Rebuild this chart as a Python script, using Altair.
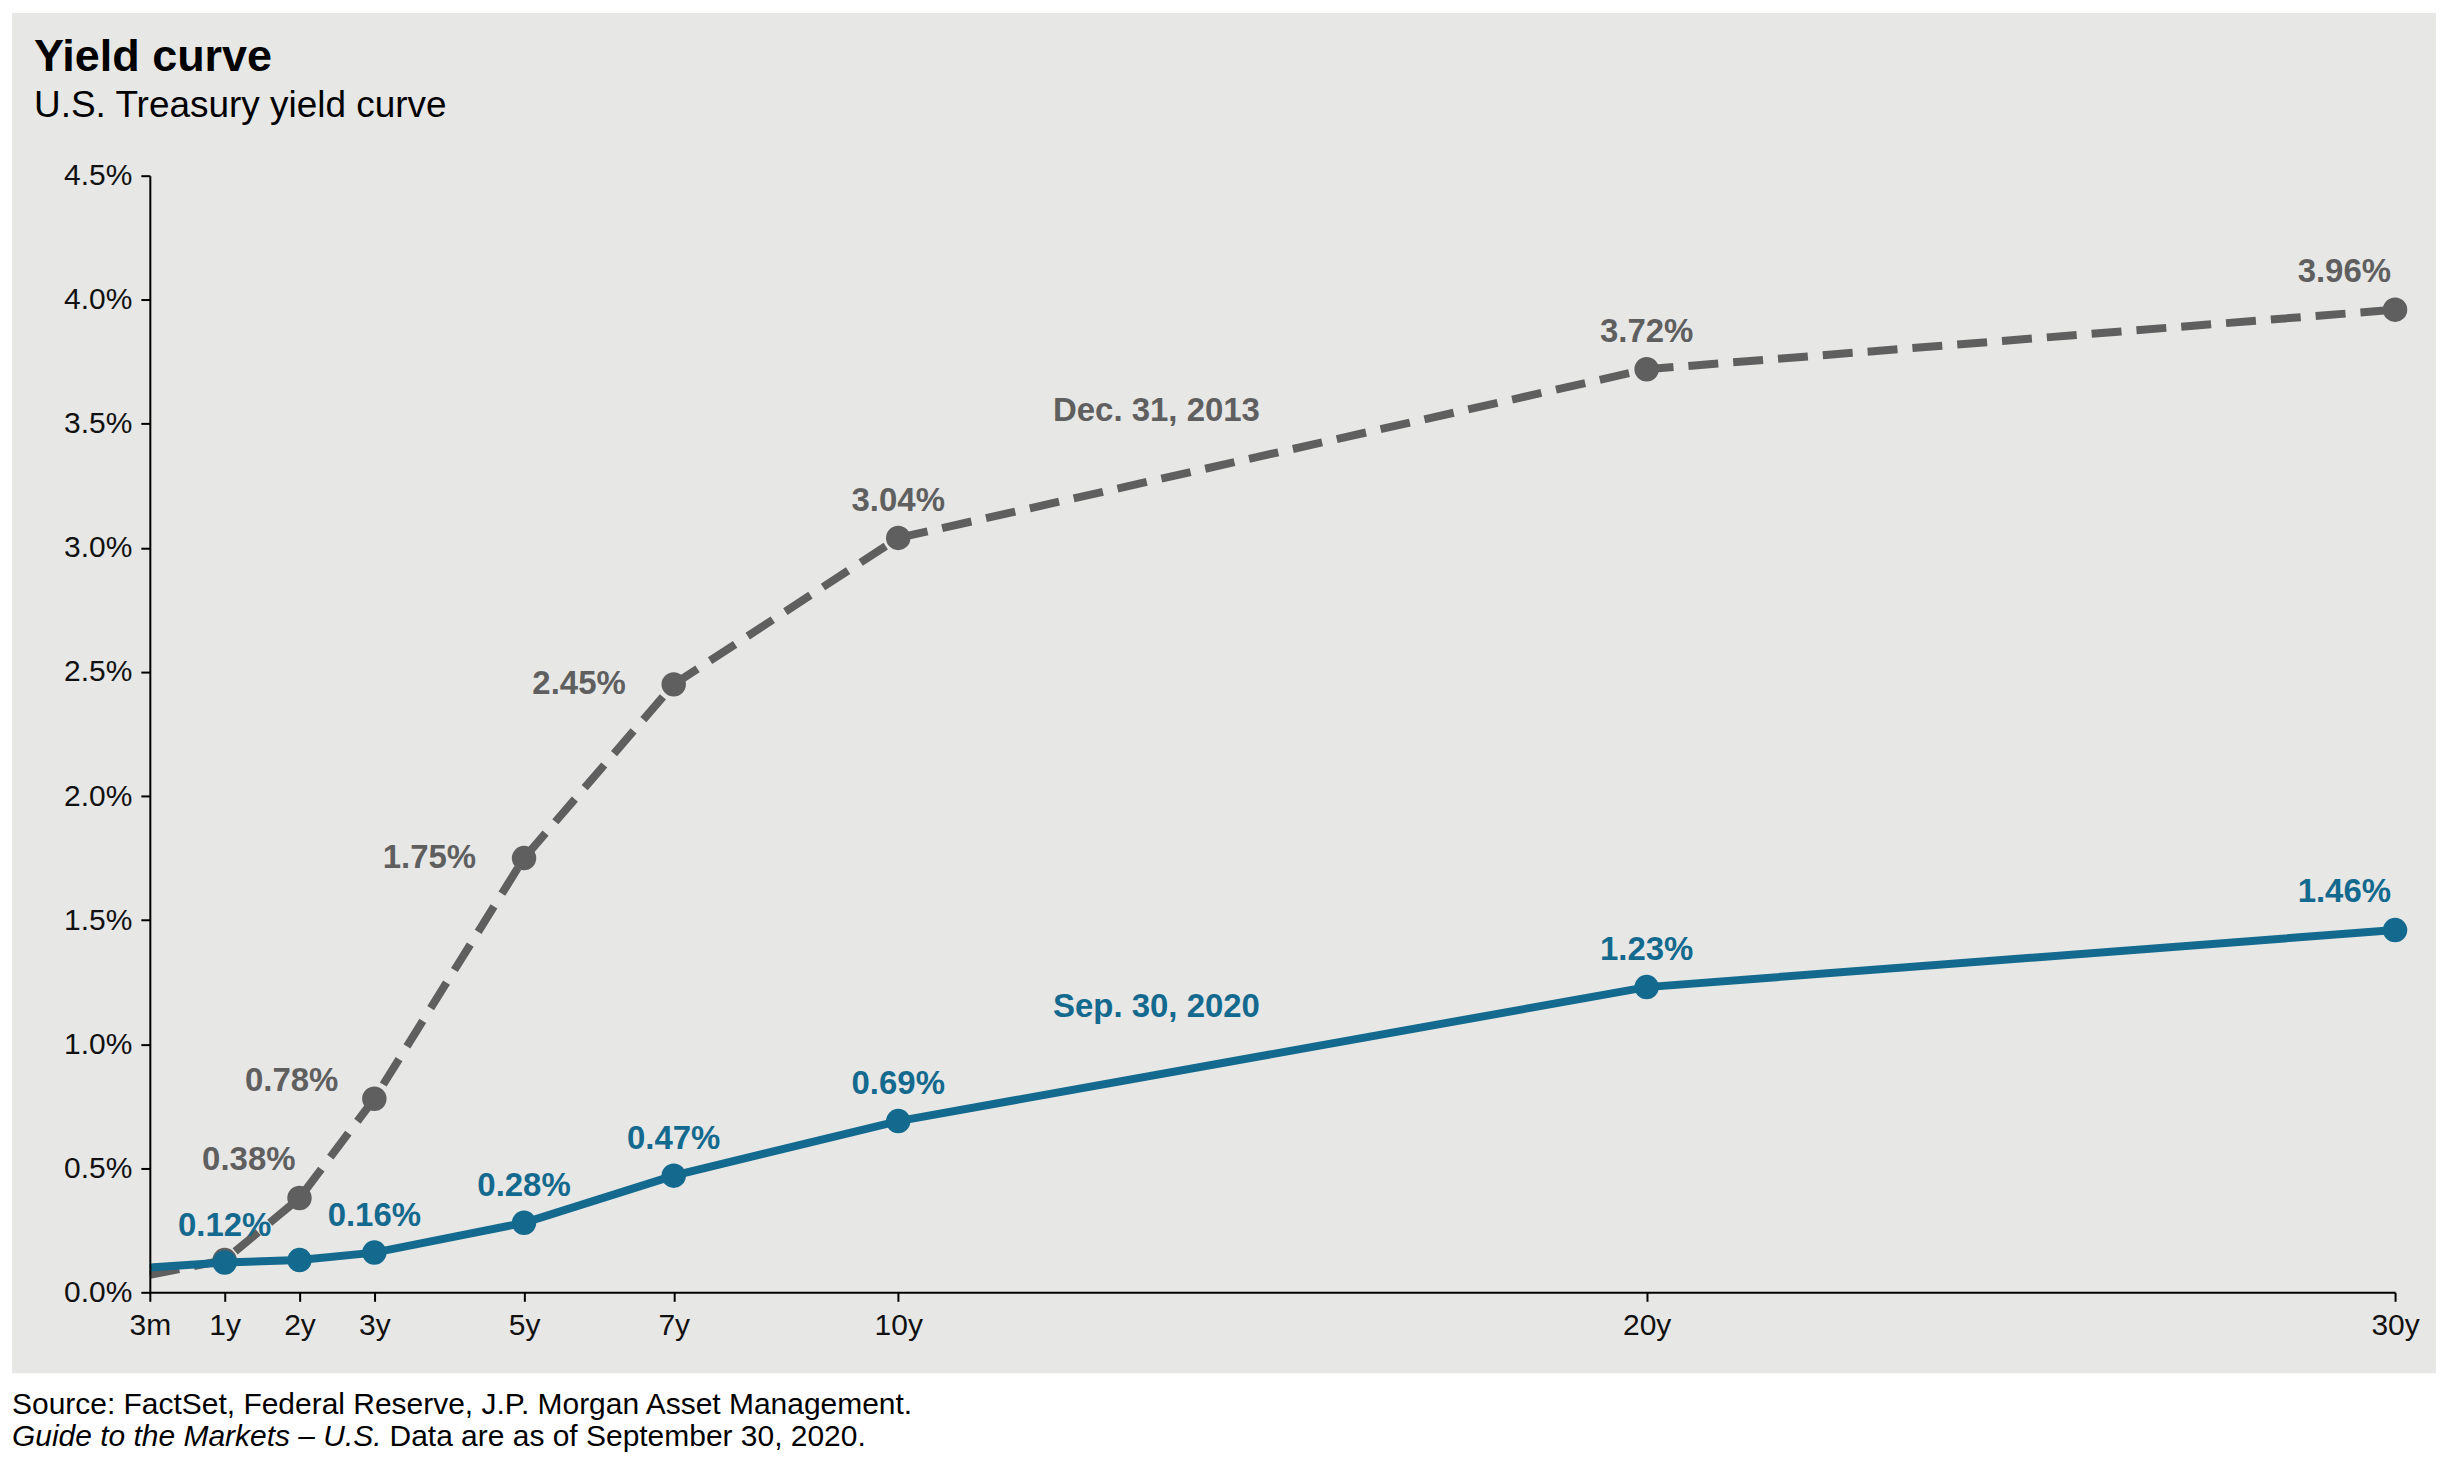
import altair as alt
import pandas as pd

# ---------------- data ----------------
maturities = ["3m", "1y", "2y", "3y", "5y", "7y", "10y", "20y", "30y"]
x_pos = [0, 1, 2, 3, 5, 7, 10, 20, 30]          # axis position (years, 3m at origin)
dec_2013 = [0.07, 0.13, 0.38, 0.78, 1.75, 2.45, 3.04, 3.72, 3.96]
sep_2020 = [0.10, 0.12, 0.13, 0.16, 0.28, 0.47, 0.69, 1.23, 1.46]
dec_2013_labels = ["", "", "0.38%", "0.78%", "1.75%", "2.45%", "3.04%", "3.72%", "3.96%"]
sep_2020_labels = ["", "0.12%", "", "0.16%", "0.28%", "0.47%", "0.69%", "1.23%", "1.46%"]
dec_2013_place = ["", "", "aboveleft", "upleft", "left", "left", "above", "above", "aboveleft"]
sep_2020_place = ["", "above", "", "above", "above", "above", "above", "above", "aboveleft"]
has_marker = [False, True, True, True, True, True, True, True, True]

series_names = ["Dec. 31, 2013", "Sep. 30, 2020"]
series_name_x = [13.45, 13.45]
series_name_y = [3.55, 1.15]

y_ticks = [0, 0.5, 1.0, 1.5, 2.0, 2.5, 3.0, 3.5, 4.0, 4.5]

title_text = "Yield curve"
subtitle_text = "U.S. Treasury yield curve"
source_line1 = "Source: FactSet, Federal Reserve, J.P. Morgan Asset Management."
source_line2_italic = "Guide to the Markets \u2013 U.S."
source_line2_rest = "Data are as of September 30, 2020."

# ---------------- styles ----------------
GRAY = "#5f5f5f"
BLUE = "#136a8e"
BG = "#e7e7e6"
FONT = "Liberation Sans"
W, H = 2248, 1118

rows = []
for name, vals, labs, places in [
    (series_names[0], dec_2013, dec_2013_labels, dec_2013_place),
    (series_names[1], sep_2020, sep_2020_labels, sep_2020_place),
]:
    for m, xp, v, lab, pl, mk in zip(maturities, x_pos, vals, labs, places, has_marker):
        rows.append({"series": name, "maturity": m, "x": xp, "y": v,
                     "label": lab, "place": pl, "marker": mk})
df = pd.DataFrame(rows)

names_df = pd.DataFrame({"series": series_names, "x": series_name_x, "y": series_name_y})

# x-axis label expression built from the maturity lists
label_expr = "''"
for xp, m in reversed(list(zip(x_pos, maturities))):
    label_expr = f"datum.value == {xp} ? '{m}' : ({label_expr})"

x_enc = alt.X("x:Q",
              scale=alt.Scale(domain=[0, 30], nice=False, zero=False),
              axis=alt.Axis(values=x_pos, labelExpr=label_expr, title=None,
                            labelFlush=False, labelOverlap=False, grid=False,
                            zindex=1))
y_enc = alt.Y("y:Q",
              scale=alt.Scale(domain=[0, 4.5], nice=False),
              axis=alt.Axis(values=y_ticks,
                            labelExpr="format(datum.value, '.1f') + '%'",
                            title=None, grid=False, zindex=1, labelFlush=False,
                            labelOverlap=False))

color_scale = alt.Scale(domain=series_names, range=[GRAY, BLUE])

base = alt.Chart(df)

bg = alt.Chart(pd.DataFrame({"a": [0]})).mark_rect(color=BG).encode(
    x=alt.value(-138), x2=alt.value(W + 41), y=alt.value(-163), y2=alt.value(H + 81))

gray_line = base.transform_filter(alt.datum.series == series_names[0]).mark_line(
    color=GRAY, strokeWidth=8, strokeDash=[30, 15], strokeCap="butt").encode(x=x_enc, y=y_enc)
gray_pts = base.transform_filter(
    (alt.datum.series == series_names[0]) & alt.datum.marker).mark_circle(
    color=GRAY, size=600, opacity=1).encode(x=x_enc, y=y_enc)
blue_line = base.transform_filter(alt.datum.series == series_names[1]).mark_line(
    color=BLUE, strokeWidth=8).encode(x=x_enc, y=y_enc)
blue_pts = base.transform_filter(
    (alt.datum.series == series_names[1]) & alt.datum.marker).mark_circle(
    color=BLUE, size=600, opacity=1).encode(x=x_enc, y=y_enc)

placements = {
    "above": dict(align="center", dx=0, dy=-37),
    "aboveleft": dict(align="right", dx=-4, dy=-38),
    "upleft": dict(align="right", dx=-36, dy=-18),
    "left": dict(align="right", dx=-48, dy=0),
}
label_layers = []
for place, kw in placements.items():
    label_layers.append(
        base.transform_filter(alt.datum.place == place).mark_text(
            baseline="middle", fontSize=33, fontWeight="bold", font=FONT, **kw
        ).encode(x=x_enc, y=y_enc, text="label:N",
                 color=alt.Color("series:N", scale=color_scale, legend=None))
    )

name_labels = alt.Chart(names_df).mark_text(
    baseline="middle", align="center", fontSize=33, fontWeight="bold", font=FONT
).encode(x=x_enc, y=y_enc, text="series:N",
         color=alt.Color("series:N", scale=color_scale, legend=None))

src1 = alt.Chart(pd.DataFrame({"t": [source_line1]})).mark_text(
    align="left", baseline="alphabetic", fontSize=30, font=FONT, color="black"
).encode(x=alt.value(-138), y=alt.value(H + 122), text="t:N")
src2a = alt.Chart(pd.DataFrame({"t": [source_line2_italic]})).mark_text(
    align="left", baseline="alphabetic", fontSize=30, font=FONT, color="black",
    fontStyle="italic"
).encode(x=alt.value(-138), y=alt.value(H + 154), text="t:N")
src2b = alt.Chart(pd.DataFrame({"t": [source_line2_rest]})).mark_text(
    align="left", baseline="alphabetic", fontSize=30, font=FONT, color="black"
).encode(x=alt.value(240), y=alt.value(H + 154), text="t:N")

chart = alt.layer(
    bg, gray_line, gray_pts, blue_line, blue_pts, *label_layers, name_labels,
    src1, src2a, src2b
).properties(
    width=W, height=H, padding=4, background="white",
    title=alt.TitleParams(
        text=title_text, subtitle=subtitle_text, anchor="start", frame="group",
        dx=-116, offset=-111, fontSize=45, subtitleFontSize=37, font=FONT,
        subtitleFont=FONT, fontWeight="bold", color="black",
        subtitleColor="black", subtitlePadding=8, zindex=1),
).configure_view(stroke=None).configure_axis(
    domainColor="black", domainWidth=2, tickColor="black", tickWidth=2,
    tickSize=9, labelFontSize=30, labelFont=FONT, labelColor="#111111",
    labelPadding=9,
)

chart.save("out.html", embed_options={"renderer": "svg", "actions": False})
